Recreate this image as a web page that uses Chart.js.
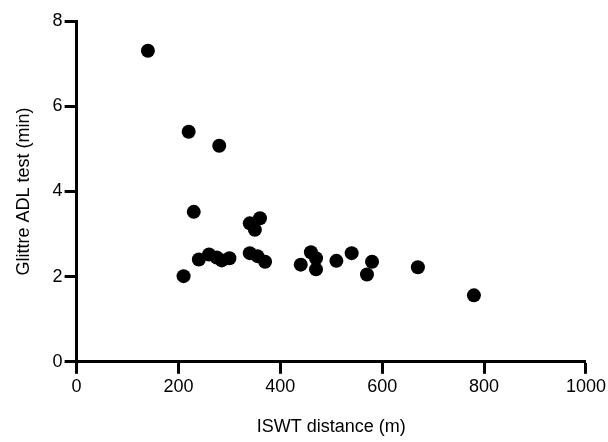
<!DOCTYPE html>
<html>
<head>
<meta charset="utf-8">
<script src="https://cdn.jsdelivr.net/npm/chart.js@4"></script>
<style>
html,body{margin:0;padding:0;background:#fff;}
#wrap{width:608px;height:442px;}
</style>
</head>
<body>
<div id="wrap"><canvas id="c" width="608" height="442"></canvas></div>
<script>
const iswtDistance = [140, 220, 280, 230, 210, 240, 260, 275, 285, 300, 340, 360, 350, 340, 355, 370, 440, 460, 470, 470, 510, 540, 580, 570, 670, 780];
const glittreTime  = [7.30, 5.40, 5.07, 3.52, 2.01, 2.40, 2.52, 2.45, 2.38, 2.43, 3.25, 3.37, 3.10, 2.55, 2.48, 2.35, 2.28, 2.57, 2.43, 2.17, 2.37, 2.55, 2.35, 2.05, 2.22, 1.56];
const xTicks = [0, 200, 400, 600, 800, 1000];
const yTicks = [0, 2, 4, 6, 8];
const xTitle = 'ISWT distance (m)';
const yTitle = 'Glittre ADL test (min)';

const points = iswtDistance.map((x, i) => ({x: x, y: glittreTime[i]}));
const FONT = "'Liberation Sans', Arial, Helvetica, sans-serif";

new Chart(document.getElementById('c'), {
  type: 'scatter',
  data: { datasets: [{ data: points, backgroundColor: '#000', borderColor: '#000', pointRadius: 7, pointHoverRadius: 7, borderWidth: 0 }] },
  options: {
    responsive: false,
    animation: false,
    devicePixelRatio: 1,
    layout: { padding: { top: 21, right: 4, left: 13, bottom: 4 } },
    plugins: { legend: { display: false }, tooltip: { enabled: false } },
    scales: {
      x: {
        type: 'linear', min: 0, max: 1000,
        afterBuildTicks: s => { s.ticks = xTicks.map(v => ({value: v})); },
        grid: { display: true, drawOnChartArea: false, drawTicks: true, tickLength: 12, tickWidth: 3, tickColor: '#000' },
        border: { display: true, color: '#000', width: 3 },
        ticks: { color: '#000', font: { family: FONT, size: 18 }, padding: 2, maxRotation: 0, callback: v => String(v) },
        title: { display: true, text: xTitle, color: '#000', font: { family: FONT, size: 18 }, padding: { top: 17, bottom: 0 } }
      },
      y: {
        type: 'linear', min: 0, max: 8,
        afterBuildTicks: s => { s.ticks = yTicks.map(v => ({value: v})); },
        grid: { display: true, drawOnChartArea: false, drawTicks: true, tickLength: 12, tickWidth: 3, tickColor: '#000' },
        border: { display: true, color: '#000', width: 3 },
        ticks: { color: '#000', font: { family: FONT, size: 18 }, padding: 2, callback: v => String(v) },
        title: { display: true, text: yTitle, color: '#000', font: { family: FONT, size: 18 }, padding: { top: 0, bottom: 16 } }
      }
    }
  }
});
</script>
</body>
</html>
